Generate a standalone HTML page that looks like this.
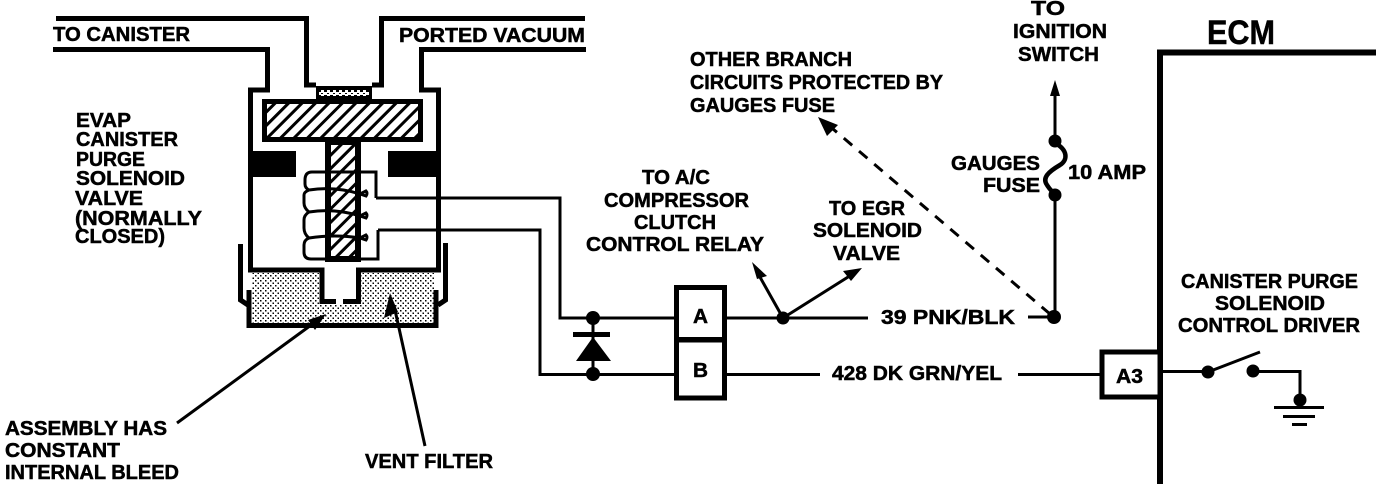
<!DOCTYPE html>
<html><head><meta charset="utf-8"><style>
html,body{margin:0;padding:0;background:#fff;width:1376px;height:486px;overflow:hidden}
svg{display:block}
text{font-family:"Liberation Sans",sans-serif;font-weight:bold;font-size:20px;fill:#000;stroke:#000;stroke-width:.5}
</style></head><body>
<svg width="1376" height="486" viewBox="0 0 1376 486" xmlns="http://www.w3.org/2000/svg">
<defs>
<pattern id="h" width="9.500" height="9.500" patternUnits="userSpaceOnUse" patternTransform="rotate(45)">
<rect width="9.500" height="9.500" fill="#fff"/><rect x="0" width="3" height="9.500" fill="#000"/>
</pattern>
<pattern id="d" width="5" height="5" patternUnits="userSpaceOnUse">
<rect width="5" height="5" fill="#fff"/><rect x="0" y="0" width="1.500" height="1.500" fill="#000"/><rect x="2.500" y="2.500" width="1.500" height="1.500" fill="#000"/>
</pattern>
<pattern id="g" width="6" height="5" patternUnits="userSpaceOnUse">
<rect width="6" height="5" fill="#fff"/><rect x="0" y="0" width="3" height="2" fill="#000"/><rect x="3" y="3" width="2" height="1" fill="#000"/>
</pattern>
</defs>
<rect width="1376" height="486" fill="#fff"/>

<!-- filter fills -->
<rect x="252" y="273" width="183" height="50" fill="url(#d)"/>
<rect x="325" y="260" width="32" height="45" fill="#fff"/>
<rect x="325" y="305" width="32" height="18" fill="url(#d)"/>

<g fill="none" stroke="#000" stroke-linejoin="miter">
<!-- tubes -->
<path d="M56 18.500H306.500V85H316M372 85H381.500V18.500H585" stroke-width="5"/>
<path d="M53 49.500H267.500V90H250.500V270H322V301.500H336M343 301.500H358.500V270H438.500V90H421.500V49.500H586" stroke-width="5"/>
<!-- cup -->
<path d="M249 290V325.500H436V290" stroke-width="5"/>
<path d="M240.500 244V300L248 305M445.500 243V300L438 305" stroke-width="5"/>
<!-- plunger -->
<rect x="264.500" y="101.500" width="156" height="38" fill="url(#h)" stroke-width="5"/>
<rect x="328" y="142" width="30" height="117" fill="url(#h)" stroke-width="6"/>
<!-- coil -->
<path d="M376 198V172H312Q305 172 305 180V184Q305 188 309 190M376 198H560V318H675" stroke-width="3"/>
<path d="M378 230V259H311Q304 259 304 252V245Q304 240 309 238Q304 234 304 228V220Q304 215 309 212Q304 208 304 203V195Q304 192 309 190" stroke-width="3"/>
<path d="M378 230H540V374.500H675" stroke-width="3"/>
<path d="M309 190Q335 186 360 194L366 191Q368 193 366 196L360 194M309 212Q335 208 360 216L366 213Q368 215 366 218L360 216M309 238Q335 234 360 238L366 235Q368 237 366 240L360 238" stroke-width="3"/>
</g>
<rect x="316" y="86" width="56" height="13" fill="#000"/>
<rect x="319" y="90" width="50" height="6" fill="url(#g)"/>
<rect x="248" y="151" width="48" height="26" fill="#000"/>
<rect x="388" y="151" width="52" height="26" fill="#000"/>

<!-- connectors -->
<g fill="none" stroke="#000">
<rect x="676.500" y="287.500" width="48" height="52" fill="#fff" stroke-width="5"/>
<rect x="676.500" y="340" width="48" height="58" fill="#fff" stroke-width="5"/>
<path d="M727 318H868M727 374.500H820M1028 317H1053M1018 374.500H1100M593 318V374" stroke-width="3"/>
<path d="M783 318L756 270M783 318L856 272" stroke-width="3"/>
<path d="M1055 317V195M1055 141V95" stroke-width="3"/>
<path d="M1055 143C1068 150 1068 160 1060 165C1048 172 1042 178 1047 185C1050 190 1053 192 1055 195" stroke-width="4.500"/>
<path d="M1050 314L826 123" stroke-width="3" stroke-dasharray="11 9"/>
<path d="M177 423L318 320M425 446L395 310" stroke-width="3"/>
</g>
<g fill="#000">
<circle cx="593" cy="318" r="7"/><circle cx="593" cy="374" r="7"/>
<rect x="573" y="332" width="37" height="5"/>
<polygon points="593,337 576,361 611,361"/>
<circle cx="783" cy="318" r="6.500"/><circle cx="1054" cy="317" r="7"/>
<circle cx="1055" cy="141" r="6.500"/><circle cx="1055" cy="195" r="6.500"/>
<polygon points="752,262 767,276 757,279"/>
<polygon points="862,268 843,271 851,281"/>
<polygon points="1055,80 1050,96 1060,96"/>
<polygon points="818,117 838,125 827,136"/>
<polygon points="326,314 308,320 315,330"/>
<polygon points="390,293 384,318 398,312"/>
</g>

<!-- ECM -->
<path d="M1160 484V52.500H1376" fill="none" stroke="#000" stroke-width="6"/>
<rect x="1102" y="352" width="58" height="45" fill="#fff" stroke="#000" stroke-width="5"/>
<path d="M1160 371.500H1208M1253 371.500H1300V400M1208 372L1260 352" fill="none" stroke="#000" stroke-width="3"/>
<circle cx="1208" cy="372" r="6.500"/><circle cx="1253" cy="371" r="6.500"/><circle cx="1300" cy="400" r="6.500"/>
<rect x="1274" y="406" width="50" height="3"/><rect x="1283" y="415" width="32" height="3"/><rect x="1292" y="423" width="15" height="3"/>

<!-- labels -->
<text x="53" y="41" textLength="137" lengthAdjust="spacingAndGlyphs">TO CANISTER</text>
<text x="399" y="42" textLength="186" lengthAdjust="spacingAndGlyphs">PORTED VACUUM</text>
<text x="76" y="127" textLength="55" lengthAdjust="spacingAndGlyphs">EVAP</text>
<text x="76" y="146" textLength="102" lengthAdjust="spacingAndGlyphs">CANISTER</text>
<text x="76" y="166" textLength="69" lengthAdjust="spacingAndGlyphs">PURGE</text>
<text x="76" y="185" textLength="109" lengthAdjust="spacingAndGlyphs">SOLENOID</text>
<text x="75" y="205" textLength="68" lengthAdjust="spacingAndGlyphs">VALVE</text>
<text x="75" y="225" textLength="127" lengthAdjust="spacingAndGlyphs">(NORMALLY</text>
<text x="75" y="243" textLength="90" lengthAdjust="spacingAndGlyphs">CLOSED)</text>
<text x="690" y="66" textLength="162" lengthAdjust="spacingAndGlyphs">OTHER BRANCH</text>
<text x="690" y="89" textLength="253" lengthAdjust="spacingAndGlyphs">CIRCUITS PROTECTED BY</text>
<text x="690" y="112" textLength="145" lengthAdjust="spacingAndGlyphs">GAUGES FUSE</text>
<text x="1031" y="15" textLength="34" lengthAdjust="spacingAndGlyphs">TO</text>
<text x="1013" y="38" textLength="94" lengthAdjust="spacingAndGlyphs">IGNITION</text>
<text x="1018" y="61" textLength="81" lengthAdjust="spacingAndGlyphs">SWITCH</text>
<text x="1207" y="44" textLength="68" lengthAdjust="spacingAndGlyphs" style="font-size:34px">ECM</text>
<text x="951" y="170" textLength="89" lengthAdjust="spacingAndGlyphs">GAUGES</text>
<text x="983" y="192" textLength="57" lengthAdjust="spacingAndGlyphs">FUSE</text>
<text x="1068" y="179" textLength="78" lengthAdjust="spacingAndGlyphs">10 AMP</text>
<text x="642" y="184" textLength="68" lengthAdjust="spacingAndGlyphs">TO A/C</text>
<text x="604" y="207" textLength="145" lengthAdjust="spacingAndGlyphs">COMPRESSOR</text>
<text x="634" y="229" textLength="82" lengthAdjust="spacingAndGlyphs">CLUTCH</text>
<text x="586" y="251" textLength="178" lengthAdjust="spacingAndGlyphs">CONTROL  RELAY</text>
<text x="829" y="215" textLength="76" lengthAdjust="spacingAndGlyphs">TO EGR</text>
<text x="813" y="237" textLength="109" lengthAdjust="spacingAndGlyphs">SOLENOID</text>
<text x="833" y="260" textLength="67" lengthAdjust="spacingAndGlyphs">VALVE</text>
<text x="881" y="324" textLength="134" lengthAdjust="spacingAndGlyphs">39 PNK/BLK</text>
<text x="832" y="380" textLength="170" lengthAdjust="spacingAndGlyphs">428 DK GRN/YEL</text>
<text x="693" y="323" textLength="15" lengthAdjust="spacingAndGlyphs">A</text>
<text x="693" y="377" textLength="15" lengthAdjust="spacingAndGlyphs">B</text>
<text x="1116" y="383" textLength="27" lengthAdjust="spacingAndGlyphs">A3</text>
<text x="1181" y="288" textLength="177" lengthAdjust="spacingAndGlyphs">CANISTER PURGE</text>
<text x="1215" y="310" textLength="110" lengthAdjust="spacingAndGlyphs">SOLENOID</text>
<text x="1178" y="332" textLength="182" lengthAdjust="spacingAndGlyphs">CONTROL DRIVER</text>
<text x="5" y="435" textLength="162" lengthAdjust="spacingAndGlyphs">ASSEMBLY HAS</text>
<text x="5" y="457" textLength="115" lengthAdjust="spacingAndGlyphs">CONSTANT</text>
<text x="5" y="479" textLength="174" lengthAdjust="spacingAndGlyphs">INTERNAL BLEED</text>
<text x="365" y="468" textLength="128" lengthAdjust="spacingAndGlyphs">VENT FILTER</text>
</svg>
</body></html>
